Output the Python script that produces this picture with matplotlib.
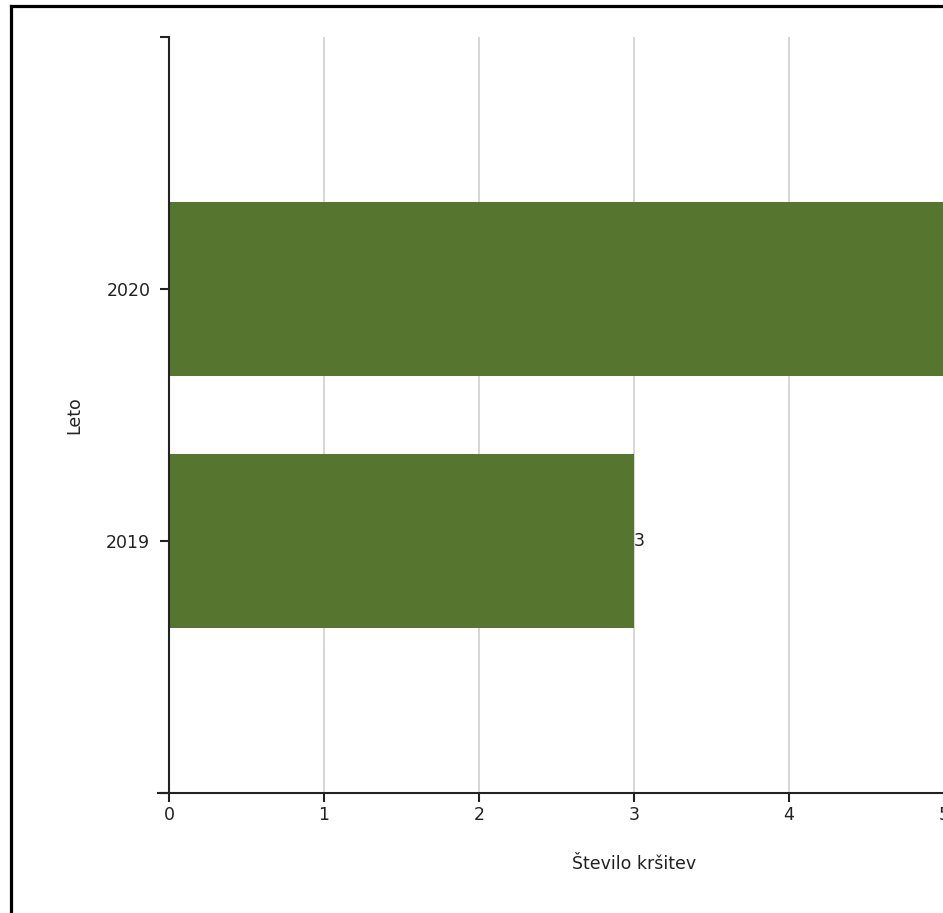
import matplotlib.pyplot as plt
from matplotlib.lines import Line2D

# podatki
leta = ['2019', '2020']
krsitve = [3, 5]
x_ticks = [0, 1, 2, 3, 4, 5]

barva = '#56752f'
plt.rc('font', family='DejaVu Sans', size=12.5)

fig = plt.figure(figsize=(9.43, 9.13), dpi=100)
W, H = 943, 913
ax = fig.add_axes([169 / W, (H - 793) / H, 775 / W, 756 / H])

pos = list(range(len(leta)))
ax.barh(pos, krsitve, height=0.69, color=barva, zorder=2)
for p, v in zip(pos, krsitve):
    ax.text(v, p, str(v), ha='left', va='center', color='#222222', zorder=3)

ax.set_xlim(0, 5)
ax.set_ylim(-1, len(leta))
ax.set_xticks(x_ticks)
ax.set_yticks(pos, labels=leta)
ax.set_yticks([-1, len(leta)], minor=True)
ax.grid(axis='x', color='#d3d3d3', linewidth=1.3, zorder=0)
ax.set_axisbelow(True)

for s in ['top', 'right']:
    ax.spines[s].set_visible(False)
for s in ['left', 'bottom']:
    ax.spines[s].set_linewidth(1.5)
    ax.spines[s].set_color('#222222')
ax.spines['bottom'].set_bounds(-0.07, 5)

ax.tick_params(axis='both', which='both', length=6.5, width=1.5,
               color='#222222', labelcolor='#222222')
ax.tick_params(axis='y', pad=7)
ax.tick_params(axis='x', pad=3)

ax.set_xlabel('Število kršitev', color='#222222')
ax.xaxis.set_label_coords(0.6, -62 / 756, transform=ax.transAxes)
ax.set_ylabel('Leto', color='#222222')
ax.yaxis.set_label_coords(-86 / 775, 0.5)

# okvir
fig.add_artist(Line2D([11 / W, 11 / W], [0, 1 - 6 / H], color='black', lw=2.3))
fig.add_artist(Line2D([11 / W, 1], [1 - 6.5 / H, 1 - 6.5 / H], color='black', lw=2.3))

for t in ax.get_xticklabels() + ax.get_yticklabels():
    t.set_clip_on(False)

fig.savefig('out.png', dpi=100)
